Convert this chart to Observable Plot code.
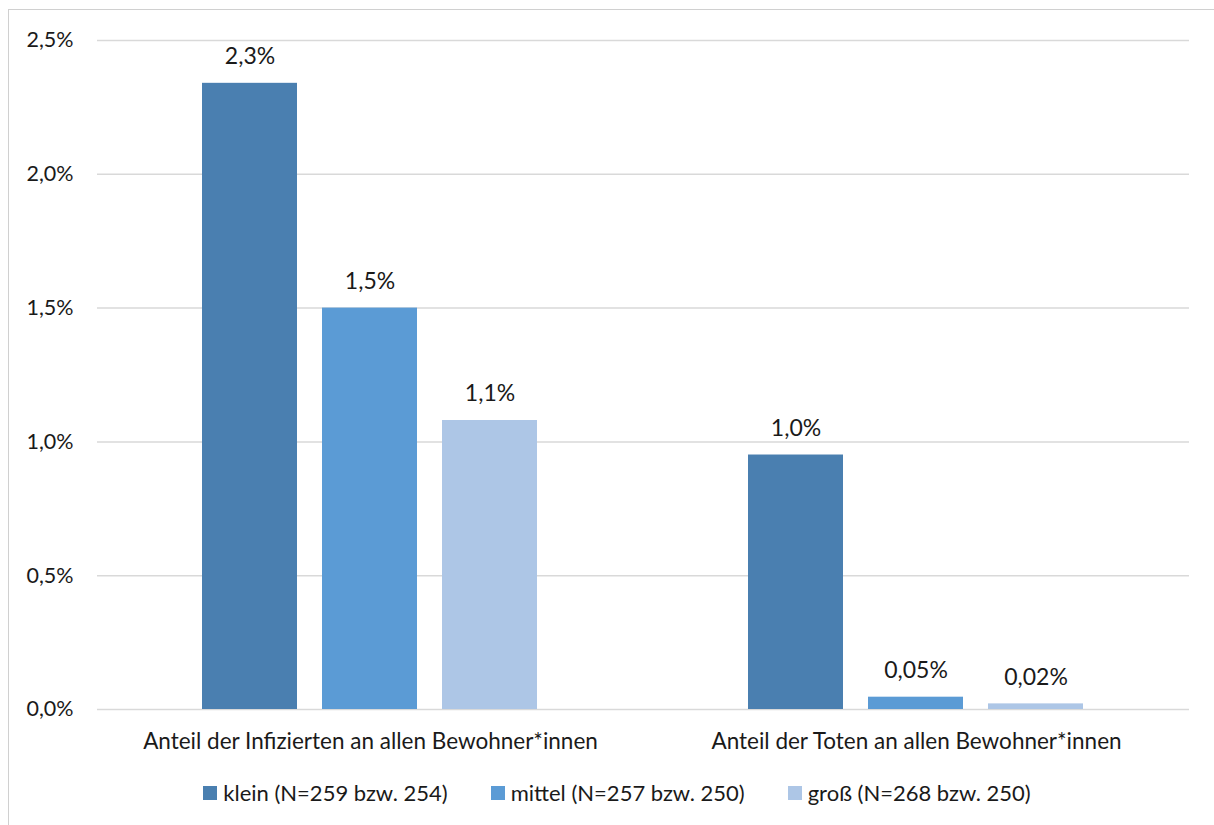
<!DOCTYPE html>
<html>
<head>
<meta charset="utf-8">
<script src="https://cdn.jsdelivr.net/npm/d3@7"></script>
<script src="https://cdn.jsdelivr.net/npm/@observablehq/plot@0.6"></script>
<style>
  html, body { margin: 0; padding: 0; background: #fff; overflow: hidden; }
  body { width: 1214px; height: 825px; position: relative; font-family: Lato, "Open Sans", sans-serif; color: #1a1a1a; }
  #frame { position: absolute; left: 8px; top: 9px; width: 1230px; height: 840px; border: 1.5px solid #d0d0d0; box-sizing: border-box; }
  #chart { position: absolute; left: 0; top: 0; }
  #legend { position: absolute; left: 10px; top: 779px; width: 1214px; display: flex; justify-content: center; gap: 43px; font-size: 22px; line-height: 28px; }
  #legend .item { display: flex; align-items: center; }
  #legend .sw { width: 14px; height: 14px; margin-right: 6px; }
  #chart g[aria-label="fx-axis tick label"] text { font-size: 22.5px; }
</style>
</head>
<body>
<div id="frame"></div>
<div id="chart"></div>
<div id="legend"></div>
<script>
// Categories and series
const groups = [
  "Anteil der Infizierten an allen Bewohner*innen",
  "Anteil der Toten an allen Bewohner*innen"
];
const sizes = ["klein", "mittel", "groß"];
const sizeLabels = ["klein (N=259 bzw. 254)", "mittel (N=257 bzw. 250)", "groß (N=268 bzw. 250)"];
const infected = [2.34, 1.50, 1.08];   // % of residents infected
const deaths = [0.951, 0.046, 0.021];  // % of residents deceased
const yTicks = [0, 0.5, 1.0, 1.5, 2.0, 2.5];
const colors = ["#4a7fb0", "#5b9bd5", "#adc6e6"];

const rows = [];
sizes.forEach((s, i) => rows.push({group: groups[0], size: s, value: infected[i]}));
sizes.forEach((s, i) => rows.push({group: groups[1], size: s, value: deaths[i]}));

const comma = s => s.replace(".", ",");
const pctLabel = v => comma(v < 0.1 ? v.toFixed(2) : v.toFixed(1)) + "%";

const chart = Plot.plot({
  width: 1214,
  height: 760,
  marginLeft: 97,
  marginRight: 25,
  marginTop: 40,
  marginBottom: 51,
  style: {fontFamily: "Lato, 'Open Sans', sans-serif", fontSize: "21.5px", color: "#1a1a1a", background: "transparent"},
  fx: {domain: groups, padding: 0, axis: "bottom", label: null, tickSize: 0, tickPadding: 24},
  x: {domain: sizes, axis: null, paddingInner: 0.207, paddingOuter: 0.86},
  y: {domain: [0, 2.5], ticks: yTicks, tickSize: 0, tickPadding: 24, label: null,
      tickFormat: d => comma(d.toFixed(1)) + "%"},
  color: {domain: sizes, range: colors},
  marks: [
    Plot.ruleY(yTicks, {stroke: "#d9d9d9", strokeWidth: 1.5}),
    Plot.barY(rows, {fx: "group", x: "size", y: "value", fill: "size"}),
    Plot.text(rows, {fx: "group", x: "size", y: "value", text: d => pctLabel(d.value),
      lineAnchor: "bottom", dy: -19, fill: "#1a1a1a", fontSize: 23})
  ]
});
document.getElementById("chart").appendChild(chart);

// Legend
const legend = document.getElementById("legend");
sizeLabels.forEach((label, i) => {
  const item = document.createElement("div");
  item.className = "item";
  const sw = document.createElement("span");
  sw.className = "sw";
  sw.style.background = colors[i];
  const t = document.createElement("span");
  t.textContent = label;
  item.append(sw, t);
  legend.appendChild(item);
});
</script>
</body>
</html>
